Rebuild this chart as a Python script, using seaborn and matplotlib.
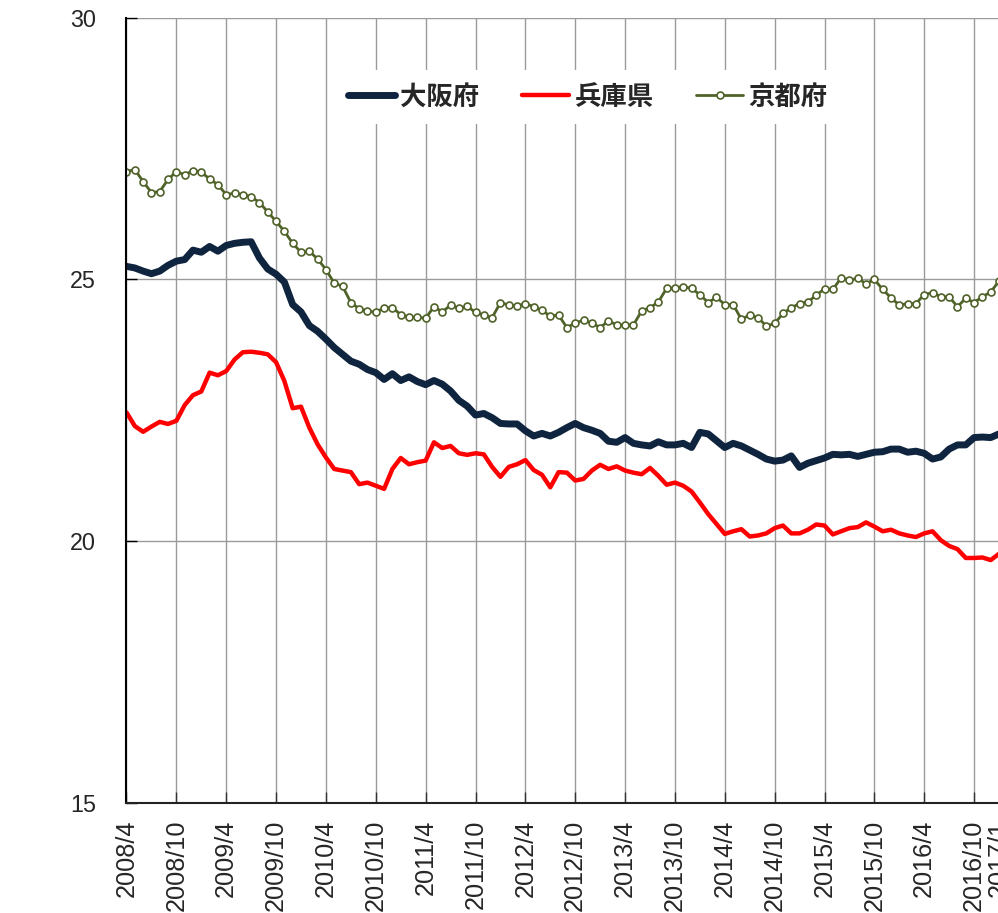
import matplotlib
matplotlib.use("Agg")
import matplotlib.pyplot as plt
import numpy as np
import pandas as pd
import seaborn as sns

# Monthly series, 2008/4 .. 2017/1
months = [f"{2008 + (3 + k) // 12}/{(3 + k) % 12 + 1}" for k in range(106)]

osaka = [25.25, 25.22, 25.16, 25.11, 25.16, 25.27, 25.35, 25.38, 25.56, 25.52,
         25.63, 25.54, 25.65, 25.69, 25.71, 25.72, 25.41, 25.20, 25.10, 24.95,
         24.52, 24.38, 24.12, 24.01, 23.86, 23.70,
         23.57, 23.44, 23.38, 23.28, 23.22, 23.09, 23.20, 23.07, 23.14, 23.05,
         22.99, 23.07, 23.00, 22.87, 22.69, 22.58, 22.41, 22.44, 22.36, 22.25,
         22.24, 22.24, 22.11, 22.01, 22.06, 22.01, 22.08,
         22.17, 22.25, 22.17, 22.12, 22.06, 21.91, 21.89, 21.98, 21.87, 21.84,
         21.82, 21.90, 21.84, 21.84, 21.87, 21.79, 22.08, 22.05, 21.92, 21.79,
         21.87, 21.82, 21.74, 21.66, 21.57, 21.53,
         21.55, 21.63, 21.41, 21.49, 21.54, 21.59, 21.66, 21.65, 21.66, 21.62,
         21.66, 21.70, 21.71, 21.76, 21.76, 21.70, 21.72, 21.68, 21.57, 21.61,
         21.76, 21.84, 21.84, 21.98, 21.99, 21.98, 22.05]

hyogo = [22.46, 22.20, 22.09, 22.19, 22.28, 22.24, 22.30, 22.60, 22.79, 22.86,
         23.22, 23.17, 23.25, 23.47, 23.61, 23.62, 23.60, 23.57, 23.42, 23.06,
         22.54, 22.57, 22.17, 21.85, 21.60,
         21.38, 21.35, 21.32, 21.09, 21.12, 21.06, 21.00, 21.38, 21.59, 21.47,
         21.51, 21.54, 21.89, 21.78, 21.82, 21.68, 21.65, 21.68, 21.66, 21.42,
         21.23, 21.42, 21.47, 21.55, 21.36, 21.27, 21.03, 21.32,
         21.31, 21.16, 21.19, 21.35, 21.46, 21.38, 21.43, 21.35, 21.31, 21.28,
         21.40, 21.25, 21.08, 21.12, 21.06, 20.95, 20.74, 20.52, 20.33, 20.14,
         20.19, 20.23, 20.09, 20.11, 20.15, 20.25,
         20.30, 20.15, 20.15, 20.22, 20.32, 20.30, 20.13, 20.19, 20.25, 20.27,
         20.36, 20.28, 20.19, 20.22, 20.15, 20.11, 20.08, 20.15, 20.19, 20.02,
         19.91, 19.85, 19.68, 19.68, 19.69, 19.64, 19.76]

kyoto = [27.06, 27.10, 26.87, 26.66, 26.68, 26.91, 27.06, 27.00, 27.08, 27.05,
         26.92, 26.81, 26.62, 26.65, 26.62, 26.58, 26.47, 26.29, 26.11, 25.92,
         25.69, 25.52, 25.54, 25.39, 25.19, 24.93, 24.87, 24.56, 24.44, 24.40,
         24.37, 24.46, 24.46, 24.33, 24.28, 24.28, 24.26, 24.48, 24.38, 24.51,
         24.45, 24.49, 24.37, 24.32, 24.27, 24.56, 24.51, 24.49, 24.54, 24.48,
         24.41, 24.30, 24.32, 24.08, 24.17, 24.22, 24.17, 24.08, 24.21, 24.13,
         24.13, 24.13, 24.40, 24.46, 24.57, 24.83, 24.84, 24.86, 24.83, 24.71,
         24.56, 24.66, 24.52, 24.52, 24.24, 24.32, 24.27, 24.11, 24.16, 24.35,
         24.46, 24.54, 24.57, 24.70, 24.82, 24.81, 25.03, 24.99, 25.02, 24.92,
         25.00, 24.81, 24.65, 24.51, 24.54, 24.54, 24.71, 24.75, 24.67, 24.67,
         24.48, 24.64, 24.56, 24.67, 24.76, 24.97]

series_names = ["大阪府", "兵庫県", "京都府"]
y_ticks = [15, 20, 25, 30]
tick_idx = list(range(0, 106, 6)) + [105]

NAVY = "#0f243e"
RED = "#ff0000"
OLIVE = "#4f6228"

sns.set_style("white")
plt.rcParams["font.family"] = ["Liberation Sans", "Noto Sans CJK JP", "DejaVu Sans"]

df = pd.DataFrame({"idx": np.arange(len(months)),
                   series_names[0]: osaka,
                   series_names[1]: hyogo,
                   series_names[2]: kyoto})

fig = plt.figure(figsize=(9.98, 9.13), dpi=100)
fig.patch.set_facecolor("white")
ax = fig.add_axes([126.5 / 998, 110 / 913, 875 / 998, 785.3 / 913])

sns.lineplot(data=df, x="idx", y=series_names[0], ax=ax, color=NAVY,
             linewidth=5.0, label=series_names[0])
sns.lineplot(data=df, x="idx", y=series_names[1], ax=ax, color=RED,
             linewidth=3.2, label=series_names[1])
sns.lineplot(data=df, x="idx", y=series_names[2], ax=ax, color=OLIVE,
             linewidth=2.0, marker="o", markersize=5.0,
             markerfacecolor="white", markeredgecolor=OLIVE,
             markeredgewidth=1.2, label=series_names[2])

ax.set_xlim(0, 105.3)
ax.set_ylim(15, 30)
ax.set_xlabel("")
ax.set_ylabel("")

ax.set_xticks(tick_idx)
ax.set_xticklabels([months[i] for i in tick_idx], rotation=90, fontsize=18.2)
ax.set_yticks(y_ticks)
ax.set_yticklabels([str(v) for v in y_ticks], fontsize=16.8)

ax.grid(True, color="#9a9a9a", linewidth=1.0)
ax.set_axisbelow(True)

ax.tick_params(axis="x", direction="in", length=8, width=1, color="#333333",
               pad=12, bottom=True)
ax.tick_params(axis="y", direction="in", length=8, width=1, color="#000000",
               pad=22, left=True)

for side in ["top", "right"]:
    ax.spines[side].set_visible(False)
ax.spines["left"].set_color("#000000")
ax.spines["left"].set_linewidth(1.5)
ax.spines["bottom"].set_color("#222222")
ax.spines["bottom"].set_linewidth(1.5)

leg = ax.legend(loc="center", bbox_to_anchor=(0.527, 0.899), ncol=3,
                frameon=True, facecolor="white", edgecolor="none",
                framealpha=1, fancybox=False, numpoints=1,
                prop={"family": ["Noto Sans CJK JP"], "weight": "bold", "size": 19},
                handlelength=1.8, handletextpad=0.2, columnspacing=1.6,
                borderpad=0.5)

fig.savefig("out.png", dpi=100, facecolor="white")
